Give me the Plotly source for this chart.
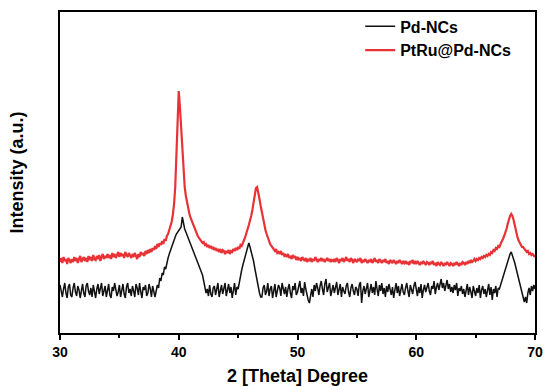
import numpy as np
import plotly.graph_objects as go

# 2-theta positions (0.1 degree step, 30..70)
two_theta = np.round(np.arange(30.0, 70.0001, 0.1), 1)

# Pd-NCs intensity (a.u.)
pd_ncs = [
    48,42,36,44,50,40,35,46,49,38,
    36,45,50,41,37,47,43,35,44,49,
    40,36,47,50,42,38,45,36,48,43,
    35,44,49,39,46,50,37,41,47,36,
    45,49,38,35,46,42,50,44,37,41,
    48,36,43,49,39,35,46,50,40,44,
    37,47,42,36,49,45,38,50,41,35,
    46,43,48,37,40,49,44,36,47,42,
    36,42,48,45,55,52,60,58,66,64,
    72,75,79,82,86,89,93,96,99,101,
    103,104,106,116,108,104,101,98,95,92,
    88,85,82,79,76,73,70,67,64,61,
    58,52,46,40,44,37,48,39,36,45,
    47,38,44,50,36,42,48,39,45,50,
    37,43,49,40,46,35,44,50,38,46,
    44,52,58,63,68,72,76,80,84,90,
    86,82,78,72,65,58,52,46,40,36,
    36,45,48,38,42,50,37,44,47,35,
    43,49,36,41,48,45,37,50,42,39,
    46,36,44,49,40,35,47,43,50,38,
    41,48,52,40,45,37,51,44,36,33,
    30,37,44,36,48,42,50,45,38,47,
    52,44,38,49,54,41,46,50,37,44,
    48,40,45,51,38,43,49,36,46,42,
    39,47,50,41,36,45,49,42,38,46,
    44,37,48,51,30,42,47,39,45,50,
    36,43,49,40,46,38,52,44,37,48,
    42,50,39,45,36,47,41,49,44,38,
    46,35,43,50,40,47,37,44,49,41,
    38,45,50,42,36,48,43,39,47,51,
    44,37,46,40,49,35,43,48,41,45,
    50,42,38,47,44,52,39,46,50,43,
    48,54,45,50,42,47,53,44,49,41,
    46,40,48,43,50,37,45,42,47,39,
    44,36,43,49,38,46,41,35,47,42,
    37,45,40,48,35,43,47,39,44,36,
    42,49,38,46,33,44,40,47,36,45,
    44,48,52,56,60,64,68,72,76,79,
    81,78,74,70,65,60,55,50,45,40,
    36,31,36,30,40,45,38,47,42,48,
    44,
]

# PtRu@Pd-NCs intensity (a.u.)
ptru_pd_ncs = [
    71,75,70,76,72,74,69,75,73,70,
    74,71,76,72,75,70,74,77,71,73,
    76,72,75,71,77,73,76,72,78,74,
    73,77,74,78,72,76,79,74,77,75,
    79,75,78,74,80,76,79,75,78,81,
    76,80,77,79,75,81,78,76,80,77,
    75,79,76,80,77,74,79,76,81,78,
    80,77,82,79,83,80,84,81,85,83,
    87,84,89,86,90,88,92,89,94,92,
    97,99,103,106,111,118,128,145,172,212,
    242,226,205,178,158,146,137,130,124,119,
    115,112,108,105,102,100,97,95,93,92,
    90,91,88,89,86,88,85,87,84,86,
    83,85,82,84,81,84,80,83,82,79,
    82,80,83,79,82,81,84,82,85,83,
    86,84,88,87,91,93,96,99,104,108,
    112,117,123,130,138,145,146,141,134,127,
    120,114,108,103,99,95,92,89,87,85,
    84,82,84,80,81,79,82,78,80,77,
    78,76,79,75,77,74,78,75,77,73,
    76,73,75,72,76,74,72,75,71,74,
    72,75,71,74,72,76,73,71,74,72,
    75,72,74,71,73,75,72,74,71,73,
    72,74,71,75,73,70,74,72,75,71,
    73,76,72,74,71,75,73,70,74,72,
    71,74,72,75,70,73,71,74,72,70,
    73,71,74,70,72,75,71,73,70,74,
    72,70,73,71,74,70,72,69,73,71,
    70,73,71,69,72,70,73,71,69,72,
    70,72,69,71,68,72,70,73,69,71,
    69,72,70,68,71,69,72,70,68,71,
    70,68,71,69,72,68,70,67,71,69,
    68,71,69,67,70,68,71,69,67,70,
    69,67,70,68,71,69,67,70,68,71,
    70,68,71,69,72,70,73,71,72,74,
    72,74,73,75,74,76,75,77,76,78,
    77,79,78,81,80,83,82,85,84,87,
    86,89,91,94,97,100,104,109,114,117,
    119,117,113,107,101,97,93,90,88,86,
    86,84,83,81,82,79,80,78,79,77,
    76,
]

series_names = ["Pd-NCs", "PtRu@Pd-NCs"]
x_ticks = [30, 40, 50, 60, 70]

FONT = "Liberation Sans, Arial, sans-serif"

fig = go.Figure()
fig.add_trace(go.Scatter(x=two_theta, y=pd_ncs, mode="lines", name=series_names[0],
                         line=dict(color="#111111", width=1.5)))
fig.add_trace(go.Scatter(x=two_theta, y=ptru_pd_ncs, mode="lines", name=series_names[1],
                         line=dict(color="#e83236", width=2.2)))

fig.update_layout(
    width=544, height=386,
    margin=dict(l=60, r=9, t=12, b=53, autoexpand=False),
    paper_bgcolor="white", plot_bgcolor="white",
    font=dict(family=FONT, color="black"),
    showlegend=True,
    legend=dict(x=0.632, y=1.008, xanchor="left", yanchor="top",
                bgcolor="rgba(0,0,0,0)",
                font=dict(family=FONT, size=16, weight="bold", color="black"),
                tracegroupgap=0, itemwidth=30),
)
fig.update_xaxes(
    range=[30, 70], tickvals=x_ticks, ticktext=[str(v) for v in x_ticks],
    ticks="outside", ticklen=5, tickwidth=2, tickcolor="black",
    minor=dict(dtick=5, ticks="outside", ticklen=3, tickwidth=2, tickcolor="black"),
    showline=True, linewidth=2, linecolor="black", mirror=True,
    showgrid=False, zeroline=False, automargin=False,
    tickfont=dict(family=FONT, size=14, weight="bold"),
    title=dict(text="2 [Theta] Degree", standoff=11,
               font=dict(family=FONT, size=18, weight="bold")),
)
fig.update_yaxes(
    range=[0, 321], showticklabels=False, ticks="",
    showline=True, linewidth=2, linecolor="black", mirror=True,
    showgrid=False, zeroline=False, automargin=False,
    title=dict(text="Intensity (a.u.)", standoff=30,
               font=dict(family=FONT, size=18, weight="bold")),
)

fig.write_html("out.html")
